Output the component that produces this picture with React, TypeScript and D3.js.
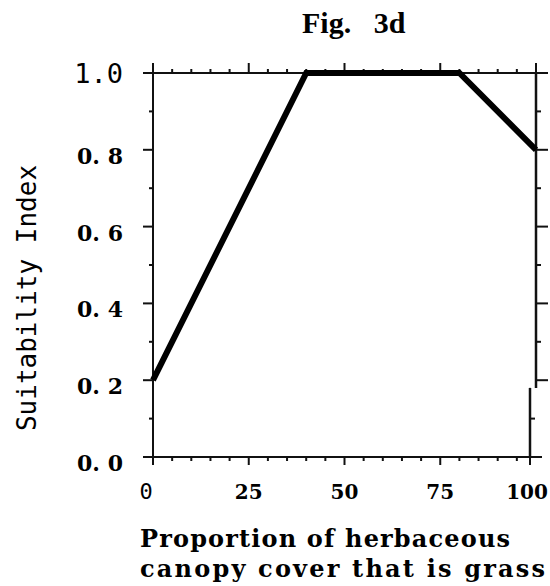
import React from "react";
import * as d3 from "d3";

// Data
const grassCover = [0, 40, 80, 100];
const suitability = [0.2, 1.0, 1.0, 0.8];
const xTickValues = [0, 25, 50, 75, 100];
const xTickLabels = ["0", "25", "50", "75", "100"];
const yTickValues = [0, 0.2, 0.4, 0.6, 0.8, 1.0];
const yTickLabels = ["0. 0", "0. 2", "0. 4", "0. 6", "0. 8", "1.0"];
const titleText = "Fig.   3d";
const yTitle = "Suitability Index";
const xTitleLines = ["Proportion of herbaceous", "canopy cover that is grass"];

const W = 550;
const H = 586;
const left = 153;
const right = 536;
const top = 73;
const bottom = 457;

const MONO = "'DejaVu Sans Mono', monospace";
const BOLD_SERIF = "'DejaVu Serif', serif";
const TITLE_SERIF = "'Liberation Serif', serif";

export default function App() {
  const x = d3.scaleLinear().domain([0, 100]).range([left, right]);
  const y = d3.scaleLinear().domain([0, 1]).range([bottom, top]);

  const pts = grassCover.map((g, i) => [g, suitability[i]] as [number, number]);
  const line = d3
    .line<[number, number]>()
    .x((d) => x(d[0]))
    .y((d) => y(d[1]));

  const xMinor = d3.range(0, 101, 5);
  const yMinor = d3.range(0, 11, 1).map((v) => v / 10);
  const isXMajor = (v: number) => v % 25 === 0;
  const isYMajor = (v: number) => Math.round(v * 10) % 2 === 0;

  // right axis has a small scan offset below 0.18
  const breakV = 0.18;
  const rightX = (v: number) => (v < breakV ? x(100) - 6 : x(100));

  const axisStroke = "#111";

  return (
    <svg
      width={W}
      height={H}
      style={{ position: "absolute", left: 0, top: 0, background: "#fff" }}
    >
      <rect x={0} y={0} width={W} height={H} fill="#fff" />
      {/* Title */}
      <text
        x={302}
        y={33}
        fontFamily={TITLE_SERIF}
        fontWeight="bold"
        fontSize={30}
        style={{ whiteSpace: "pre" }}
        fill="#000"
      >
        {titleText}
      </text>

      {/* Axes frame */}
      <line x1={x(0)} x2={x(100)} y1={y(1)} y2={y(1)} stroke={axisStroke} strokeWidth={2} />
      <line x1={x(0)} x2={rightX(0)} y1={y(0)} y2={y(0)} stroke={axisStroke} strokeWidth={2} />
      <line x1={x(0)} x2={x(0)} y1={y(0)} y2={y(1)} stroke={axisStroke} strokeWidth={2} />
      <line x1={rightX(1)} x2={rightX(1)} y1={y(breakV)} y2={y(1)} stroke={axisStroke} strokeWidth={2.5} />
      <line x1={rightX(0)} x2={rightX(0)} y1={y(0)} y2={y(breakV)} stroke={axisStroke} strokeWidth={2.5} />

      {/* X ticks top (upward) and bottom (downward) */}
      {xMinor.map((v) => {
        const bx = v === 100 ? rightX(0) : x(v);
        return (
          <g key={"xt" + v}>
            <line
              x1={x(v)}
              x2={x(v)}
              y1={y(1)}
              y2={y(1) - (isXMajor(v) ? 10 : 4)}
              stroke={axisStroke}
              strokeWidth={2}
            />
            <line
              x1={bx}
              x2={bx}
              y1={y(0)}
              y2={y(0) + (isXMajor(v) ? 8 : 4)}
              stroke={axisStroke}
              strokeWidth={2}
            />
          </g>
        );
      })}

      {/* Y ticks left (outward) and right (outward) */}
      {yMinor.map((v) => (
        <g key={"yt" + v}>
          <line
            x1={x(0)}
            x2={x(0) - (isYMajor(v) ? 10 : 4)}
            y1={y(v)}
            y2={y(v)}
            stroke={axisStroke}
            strokeWidth={2}
          />
          <line
            x1={rightX(v)}
            x2={rightX(v) + (isYMajor(v) ? 12 : 5)}
            y1={y(v)}
            y2={y(v)}
            stroke={axisStroke}
            strokeWidth={2}
          />
        </g>
      ))}

      {/* Data line */}
      <path
        d={line(pts) || ""}
        fill="none"
        stroke="#000"
        strokeWidth={6}
        strokeLinejoin="miter"
      />

      {/* Y tick labels */}
      {yTickValues.map((v, i) => {
        const mono = v === 1;
        return (
          <text
            key={"yl" + v}
            x={x(0) - 30}
            y={y(v) + (mono ? 10 : 14)}
            textAnchor="end"
            fontFamily={mono ? MONO : BOLD_SERIF}
            fontWeight={mono ? "normal" : "bold"}
            fontSize={mono ? 27 : 22}
            style={{ whiteSpace: "pre" }}
            fill="#000"
          >
            {yTickLabels[i]}
          </text>
        );
      })}

      {/* X tick labels */}
      {xTickValues.map((v, i) => {
        const mono = v === 0;
        const dx = v === 0 ? -7 : v === 100 ? -9 : 0;
        return (
          <text
            key={"xl" + v}
            x={x(v) + dx}
            y={499}
            textAnchor="middle"
            fontFamily={mono ? MONO : BOLD_SERIF}
            fontWeight={mono ? "normal" : "bold"}
            fontSize={mono ? 22 : 20}
            fill="#000"
          >
            {xTickLabels[i]}
          </text>
        );
      })}

      {/* Y axis title */}
      <text
        transform={`translate(36, 298) rotate(-90)`}
        textAnchor="middle"
        fontFamily={MONO}
        fontSize={26}
        fill="#000"
      >
        {yTitle}
      </text>

      {/* X axis title */}
      <text
        x={140}
        y={547}
        fontFamily={BOLD_SERIF}
        fontWeight="bold"
        fontSize={24}
        textLength={370}
        lengthAdjust="spacing"
        fill="#000"
      >
        {xTitleLines[0]}
      </text>
      <text
        x={140}
        y={577}
        fontFamily={BOLD_SERIF}
        fontWeight="bold"
        fontSize={24}
        textLength={405}
        lengthAdjust="spacing"
        fill="#000"
      >
        {xTitleLines[1]}
      </text>
    </svg>
  );
}
